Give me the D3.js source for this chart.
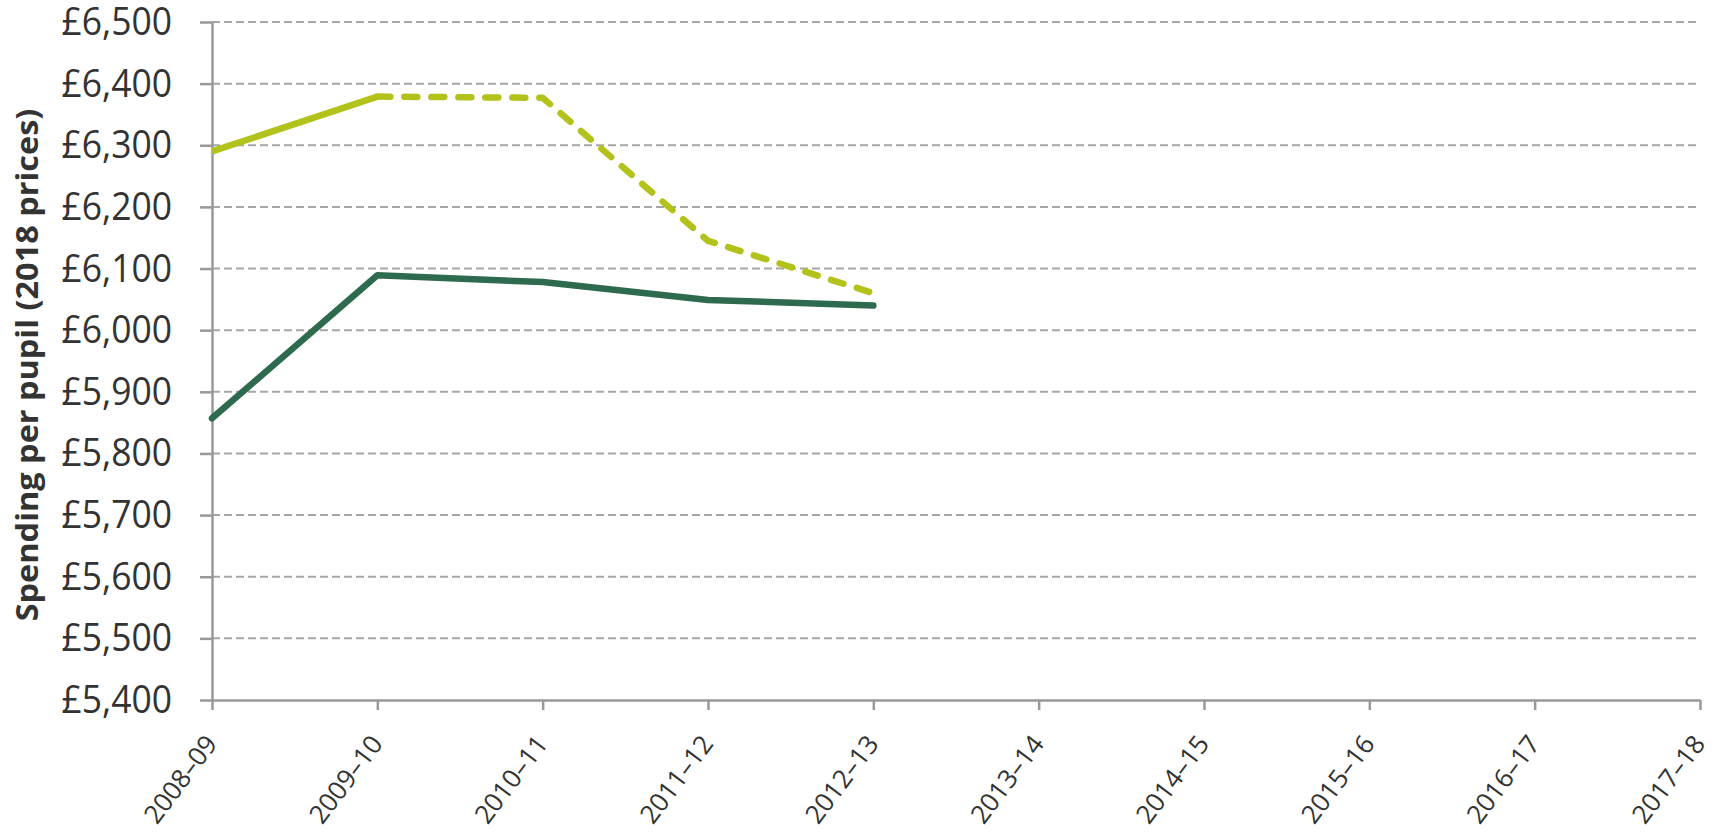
<!DOCTYPE html>
<html>
<head>
<meta charset="utf-8">
<script src="https://cdn.jsdelivr.net/npm/d3@7"></script>
<style>
    html, body { margin: 0; padding: 0; background: #fff; }
    #vis1-container { width: 1719px; height: 832px; }
    text { font-family: 'Open Sans', sans-serif; fill: #333; }
</style>
</head>
<body>
<div id="vis1-container"></div>
<script>
const years = ["2008–09", "2009–10", "2010–11", "2011–12", "2012–13",
    "2013–14", "2014–15", "2015–16", "2016–17", "2017–18"];
const yTicks = [5400, 5500, 5600, 5700, 5800, 5900, 6000, 6100, 6200, 6300, 6400, 6500];

// light green: solid for the first two years, dashed afterwards
const lightSolid = [
    { year: "2008–09", value: 6290 },
    { year: "2009–10", value: 6379 }
];
const lightDashed = [
    { year: "2009–10", value: 6379 },
    { year: "2010–11", value: 6377 },
    { year: "2011–12", value: 6145 },
    { year: "2012–13", value: 6060 }
];
const darkSeries = [
    { year: "2008–09", value: 5857 },
    { year: "2009–10", value: 6089 },
    { year: "2010–11", value: 6078 },
    { year: "2011–12", value: 6049 },
    { year: "2012–13", value: 6040 }
];

const v1_container = d3.select("#vis1-container");

const
    height = 832,
    width = 1719,
    margin = { top: 22, right: 19, bottom: 132, left: 212 },
    svg = v1_container.append('svg').attr("width", width).attr("height", height);

var colors = {
    light: "#b3c11b",
    dark: "#2e6a4e",
    grid: "#a6a6a6",
    axis: "#999999"
};

var x = d3.scalePoint()
    .domain(years)
    .range([margin.left, width - margin.right]);

var y = d3.scaleLinear()
    .domain([5400, 6500])
    .range([height - margin.bottom, margin.top]);

var line = d3.line()
    .x(d => x(d.year))
    .y(d => y(d.value));

// gridlines
svg.append("g")
    .selectAll("line")
    .data(yTicks.slice(1))
    .enter().append("line")
    .attr("x1", margin.left)
    .attr("x2", width - margin.right)
    .attr("y1", d => y(d))
    .attr("y2", d => y(d))
    .attr("stroke", colors.grid)
    .attr("stroke-width", 2)
    .attr("stroke-dasharray", "8,4");

// y axis
var yAxis = svg.append("g")
    .attr("transform", `translate(${margin.left},0)`)
    .call(d3.axisLeft(y).tickValues(yTicks).tickFormat(d => "£" + d3.format(",")(d)).tickSize(12).tickSizeOuter(0).tickPadding(28));
yAxis.select(".domain").attr("stroke", colors.axis).attr("stroke-width", 2.5);
yAxis.selectAll(".tick line").attr("stroke", colors.axis).attr("stroke-width", 2.5);
yAxis.selectAll(".tick text")
    .style("font-size", "35.5px")
    .attr("fill", "#333")
    .attr("transform", "scale(1,1.1)");

// x axis
var xAxis = svg.append("g")
    .attr("transform", `translate(0,${height - margin.bottom})`)
    .call(d3.axisBottom(x).tickSize(10).tickSizeOuter(0));
xAxis.select(".domain").attr("stroke", colors.axis).attr("stroke-width", 2.5);
xAxis.selectAll(".tick line").attr("stroke", colors.axis).attr("stroke-width", 2.5);
xAxis.selectAll(".tick text")
    .style("font-size", "26px")
    .attr("fill", "#333")
    .attr("text-anchor", "end")
    .attr("dy", 0)
    .attr("y", 0)
    .attr("x", 0)
    .attr("transform", "translate(6,44) rotate(-53)");

// series
svg.append("path")
    .datum(lightSolid)
    .attr("fill", "none")
    .attr("stroke", colors.light)
    .attr("stroke-width", 6.5)
    .attr("stroke-linejoin", "round")
    .attr("d", line);

svg.append("path")
    .datum(lightDashed)
    .attr("fill", "none")
    .attr("stroke", colors.light)
    .attr("stroke-width", 6.5)
    .attr("stroke-linejoin", "round")
    .attr("stroke-linecap", "round")
    .attr("stroke-dasharray", "13,14")
    .attr("d", line);

svg.append("path")
    .datum(darkSeries)
    .attr("fill", "none")
    .attr("stroke", colors.dark)
    .attr("stroke-width", 6.5)
    .attr("stroke-linejoin", "round")
    .attr("stroke-linecap", "round")
    .attr("d", line);

// axis title
svg.append("text")
    .attr("x", -365 / 1.1)
    .attr("y", 38)
    .attr("transform", "rotate(-90) scale(1.1,1)")
    .style("text-anchor", "middle")
    .style("font-size", "29.5px")
    .style("font-weight", "bold")
    .text("Spending per pupil (2018 prices)");
</script>
</body>
</html>
